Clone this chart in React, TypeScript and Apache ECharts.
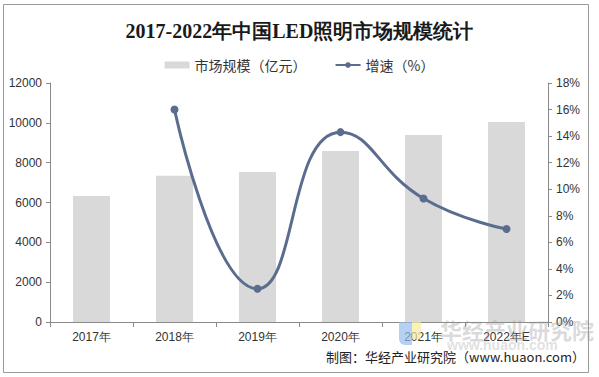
import React, { useEffect, useRef } from "react";
import * as echarts from "echarts";

const categories = ["2017年", "2018年", "2019年", "2020年", "2021年", "2022年E"];
const marketSize = [6330, 7340, 7530, 8590, 9390, 10040];
const growth = [null, 16.0, 2.5, 14.3, 9.3, 7.0];

export default function App() {
  const ref = useRef<HTMLDivElement>(null);
  useEffect(() => {
    const chart = echarts.init(ref.current!, null, { renderer: "svg" });
    chart.setOption({
      animation: false,
      backgroundColor: "#ffffff",
      title: {
        text: "2017-2022年中国LED照明市场规模统计",
        left: "center",
        top: 16,
        textStyle: { fontFamily: "serif", fontSize: 20, fontWeight: "bold", color: "#1a1a1a" },
      },
      legend: {
        top: 53,
        left: "center",
        itemGap: 28,
        itemWidth: 25,
        itemHeight: 7,
        textStyle: { fontSize: 14, color: "#333", fontFamily: "Noto Sans CJK SC" },
        data: [
          { name: "市场规模（亿元）", icon: "rect" },
          { name: "增速（%）" },
        ],
      },
      grid: { left: 50, right: 51, top: 83, bottom: 55 },
      xAxis: {
        type: "category",
        data: categories,
        axisLine: { lineStyle: { color: "#8a8a8a" } },
        axisTick: { show: true, lineStyle: { color: "#8a8a8a" } },
        axisLabel: { color: "#333", fontSize: 12, margin: 9, fontFamily: "Liberation Sans" },
      },
      yAxis: [
        {
          type: "value",
          min: 0,
          max: 12000,
          interval: 2000,
          axisLine: { show: true, lineStyle: { color: "#8a8a8a" } },
          axisTick: { show: true, length: 4, lineStyle: { color: "#8a8a8a" } },
          splitLine: { show: false },
          axisLabel: {
            color: "#333",
            fontSize: 12,
            margin: 8,
            fontFamily: "Liberation Sans",
            formatter: (v: number) => String(v),
          },
        },
        {
          type: "value",
          min: 0,
          max: 18,
          interval: 2,
          axisLine: { show: true, lineStyle: { color: "#8a8a8a" } },
          axisTick: { show: true, length: 4, lineStyle: { color: "#8a8a8a" } },
          splitLine: { show: false },
          axisLabel: { color: "#333", fontSize: 12, margin: 8, formatter: "{value}%", fontFamily: "Liberation Sans" },
        },
      ],
      series: [
        {
          name: "市场规模（亿元）",
          type: "bar",
          data: marketSize,
          barWidth: 37,
          itemStyle: { color: "#d9d9d9" },
        },
        {
          name: "增速（%）",
          type: "line",
          yAxisIndex: 1,
          data: growth,
          smooth: 0.5,
          symbol: "circle",
          symbolSize: 8,
          lineStyle: { color: "#5b6d8f", width: 3 },
          itemStyle: { color: "#5b6d8f" },
        },
      ],
      graphic: [
        {
          type: "rect",
          shape: { x: 3.5, y: 4.5, width: 585, height: 368 },
          style: { fill: "none", stroke: "#9a9a9a", lineWidth: 1 },
          silent: true,
          z: 100,
        },
        {
          type: "rect",
          shape: { x: 399, y: 322, width: 13, height: 23, r: [0, 0, 0, 6] },
          style: { fill: "rgba(150,190,235,0.7)" },
          silent: true,
          z: 40,
        },
        {
          type: "rect",
          shape: { x: 412, y: 322, width: 9, height: 17 },
          style: { fill: "rgba(250,235,160,0.7)" },
          silent: true,
          z: 40,
        },
        {
          type: "text",
          x: 440,
          y: 318,
          style: {
            text: "华经产业研究院",
            fontSize: 22,
            fontWeight: "bold",
            fill: "rgba(150,150,150,0.35)",
            fontFamily: "Noto Sans CJK SC",
          },
          z: 50,
        },
        {
          type: "text",
          x: 447,
          y: 338,
          style: {
            text: "www.huaon.com",
            fontSize: 14,
            fontWeight: "bold",
            fill: "rgba(150,150,150,0.3)",
            fontFamily: "Liberation Sans",
          },
          z: 50,
        },
        {
          type: "text",
          right: 14,
          y: 350,
          style: {
            text: "制图：华经产业研究院（www.huaon.com）",
            fontSize: 13,
            fill: "#222",
            fontFamily: "Noto Sans CJK SC",
          },
          z: 60,
        },
      ],
    });
    return () => chart.dispose();
  }, []);
  return (
    <div
      ref={ref}
      style={{ position: "fixed", left: 0, top: 0, width: 599, height: 377 }}
    />
  );
}
